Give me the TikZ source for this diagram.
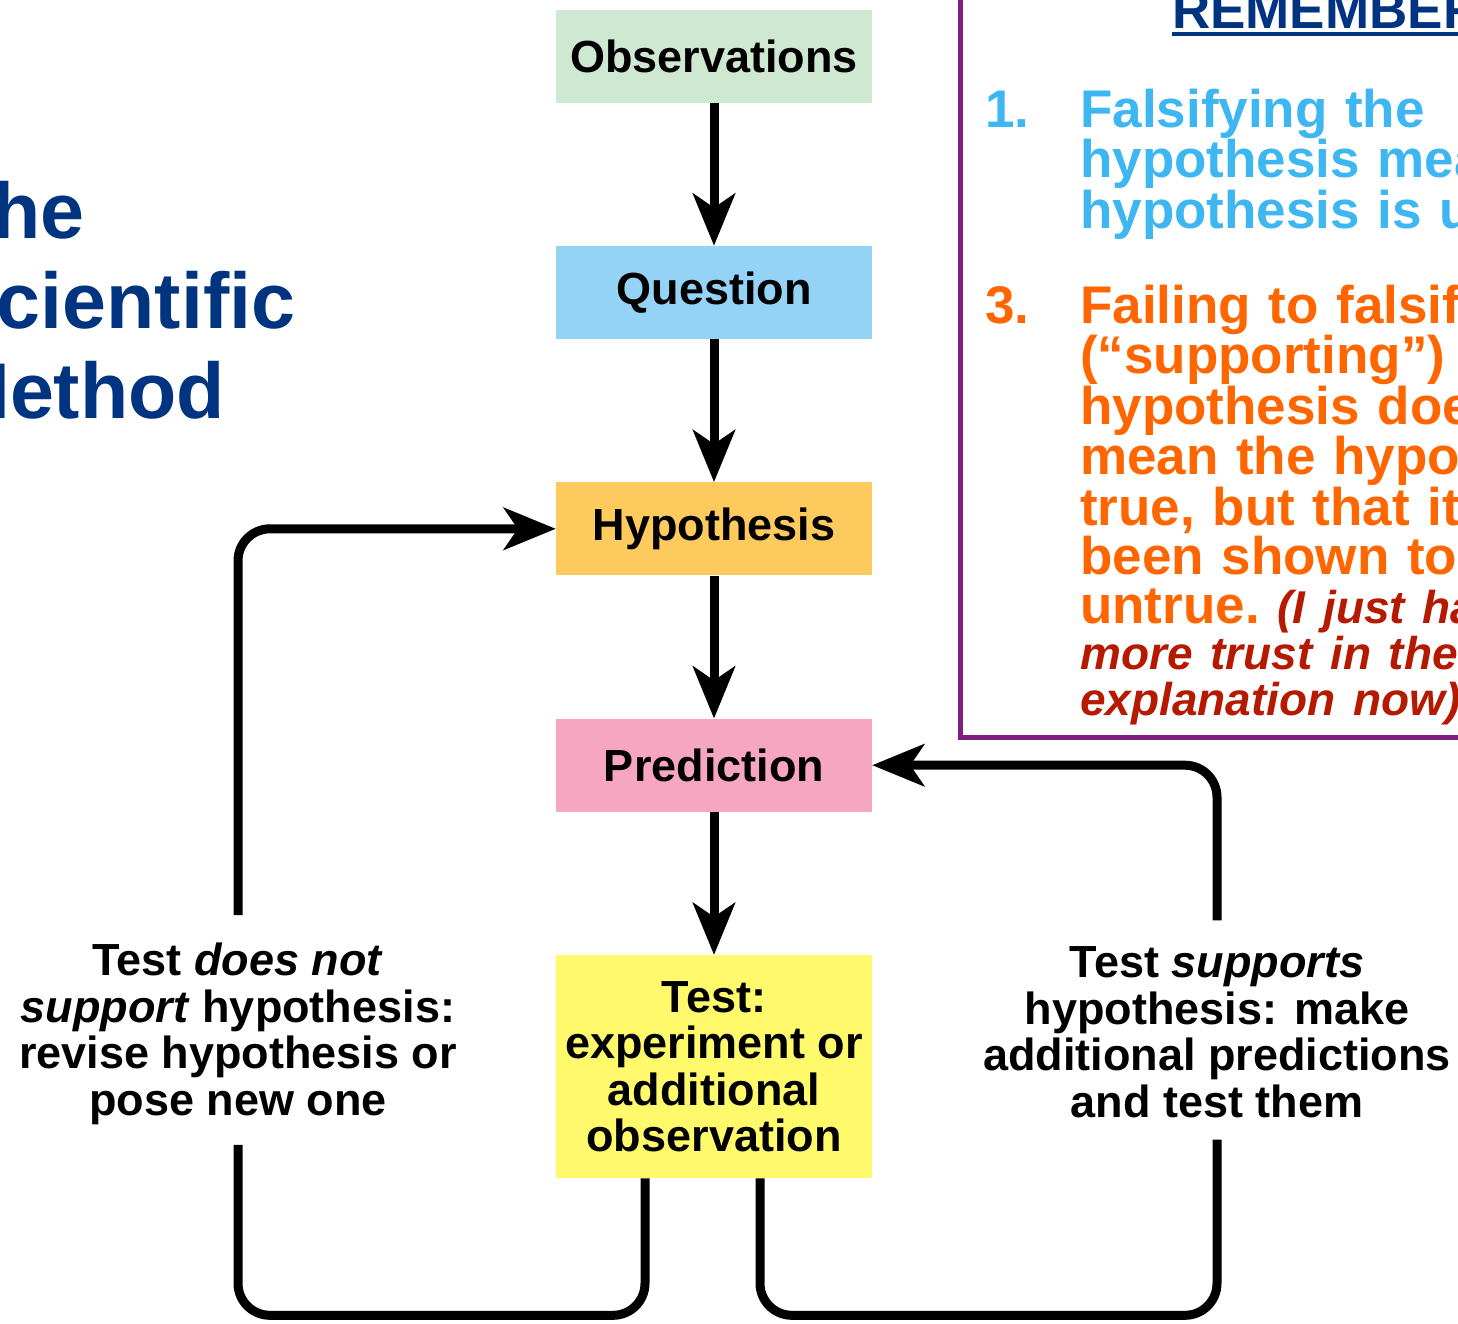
\documentclass[tikz,border=0pt]{standalone}
\usepackage{fontspec}
\setmainfont{Liberation Sans}
\usetikzlibrary{arrows.meta,positioning}

\definecolor{obsgreen}{HTML}{CFE8D1}
\definecolor{questblue}{HTML}{95D3F6}
\definecolor{hypgold}{HTML}{FDCB5D}
\definecolor{predpink}{HTML}{F6A6C1}
\definecolor{testyellow}{HTML}{FFF96B}
\definecolor{navy}{HTML}{003380}
\definecolor{skyblue}{HTML}{3DB6F2}
\definecolor{hotorange}{HTML}{FF6600}
\definecolor{darkred}{HTML}{B51A00}
\definecolor{framepurple}{HTML}{7E1F7E}

\newcommand{\labelfont}{\fontsize{45}{46.5}\selectfont\bfseries}
\newcommand{\itemfont}{\fontsize{53}{49}\selectfont\bfseries}
\newcommand{\asidefont}{\fontsize{46}{46}\selectfont\bfseries\itshape\color{darkred}}

\begin{document}
\begin{tikzpicture}[
    x=1pt, y=-1pt,
    node distance=143pt,
    stage/.style={rectangle, minimum width=316pt, minimum height=93pt, inner sep=0pt, align=center, font=\labelfont},
    note/.style={align=center, inner sep=0pt, font=\labelfont},
    item/.style={anchor=base west, inner sep=0pt, text width=700pt, align=left, font=\itemfont},
    link/.style={line width=9pt, rounded corners=32pt},
    arrow/.style={link, -{Stealth[length=52pt, width=42pt, inset=14pt]}}
]
\useasboundingbox (0,0) rectangle (1458,1323);
\clip (0,0) rectangle (1458,1323);

% Title, cut by the left edge
\node[anchor=west, align=left, inner sep=0pt, text=navy, font=\fontsize{79}{90}\selectfont\bfseries] (title) at (-56,300) {The\\Scientific\\Method};

% Steps of the method
\node[stage, fill=obsgreen] (obs) at (714,56) {Observations};
\node[stage, fill=questblue, below=of obs] (quest) {Question};
\node[stage, fill=hypgold, below=of quest] (hyp) {Hypothesis};
\node[stage, fill=predpink, below=of hyp] (pred) {Prediction};
\node[stage, fill=testyellow, minimum height=223pt, below=of pred] (test) {Test:\\experiment or\\additional\\observation};

% Outcomes of the test
\node[note] (reject) at (238,1034) {Test \textit{does not}\\\textit{support} hypothesis:\\revise hypothesis or\\pose new one};
\node[note] (accept) at (1217,1032) {Test \textit{supports}\\hypothesis: make\\additional predictions\\and test them};

% Arrows
\draw[arrow] (obs) -- (quest);
\draw[arrow] (quest) -- (hyp);
\draw[arrow] (hyp) -- (pred);
\draw[arrow] (pred) -- (test);
\draw[link] ([xshift=-69pt]test.south) -- ++(0,137) -| ([yshift=-20pt]reject.south);
\draw[arrow] ([yshift=28pt]reject.north) |- (hyp.west);
\draw[link] ([xshift=46pt]test.south) -- ++(0,137) -| ([yshift=-22pt]accept.south);
\draw[arrow] ([yshift=26pt]accept.north) |- (pred.east);

% Reminder box, cut by the top and right edges
\draw[framepurple, line width=5pt] (960,-20) rectangle (1500,737);
\node[anchor=base west, inner sep=0pt, text=navy, font=\fontsize{53}{53}\selectfont\bfseries] (remember) at (1172,28) {REMEMBER};
\draw[navy, line width=4pt] ([yshift=-6pt]remember.base west) -- ([yshift=-6pt]remember.base east);

\node[item, text=skyblue] (num1) at (985,127) {1.};
\node[item, text=skyblue] (item1) at (1080,127) {Falsifying the\\hypothesis means the\\hypothesis is untrue.};
\node[item, text=hotorange] (num3) at (985,323) {3.};
\node[item, text=hotorange] (item3) at (1080,323) {Failing to falsify\\(“supporting”) the\\hypothesis does not\\mean the hypothesis is\\true, but that it has not\\been shown to be\\untrue.~{\asidefont(I just have}\\[-3pt]{\asidefont more trust in the}\\[-3pt]{\asidefont explanation now)}};

\end{tikzpicture}
\end{document}
